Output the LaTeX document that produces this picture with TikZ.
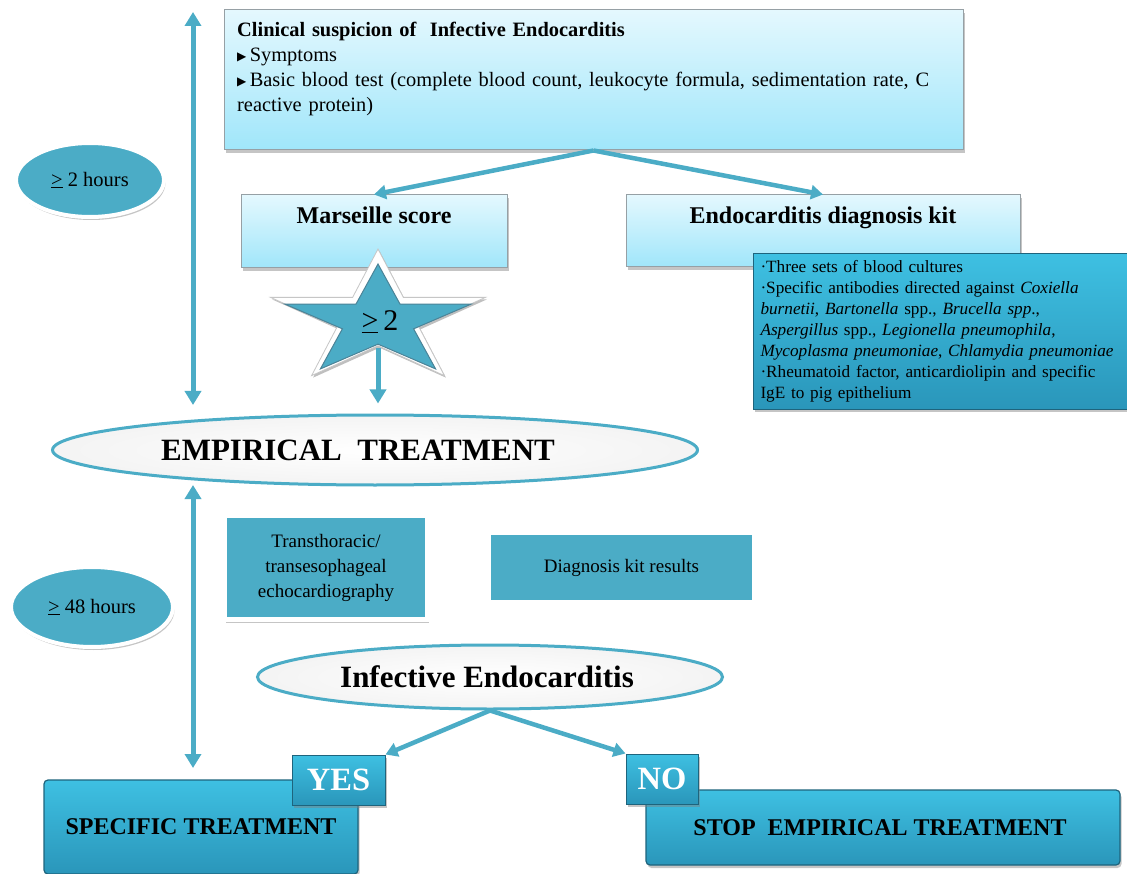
\documentclass[tikz,border=0pt]{standalone}
\usepackage{fontspec}
\setmainfont{Liberation Serif}
\newfontfamily\dejavu{DejaVu Sans}
\usetikzlibrary{arrows.meta,shadows,shapes.geometric}
\definecolor{teal1}{RGB}{75,172,198}
\definecolor{lighttop}{RGB}{228,248,254}
\definecolor{lightbot}{RGB}{160,230,250}
\definecolor{darktop}{RGB}{62,192,226}
\definecolor{darkbot}{RGB}{42,150,186}
\definecolor{boxedge}{RGB}{150,160,165}
\definecolor{darkedge}{RGB}{30,100,125}
\begin{document}
\begin{tikzpicture}[x=1pt,y=-1pt,
  arr/.style={draw=teal1, line width=5pt, -{Triangle[length=14pt,width=16pt]}},
  sarr/.style={draw=teal1, line width=4.5pt, -{Triangle[length=12pt,width=14pt]}},
  darr/.style={draw=teal1, line width=5pt, {Triangle[length=14pt,width=16pt]}-{Triangle[length=14pt,width=16pt]}},
  shad/.style={drop shadow={shadow xshift=1.5pt,shadow yshift=-3pt,opacity=0.45}},
  lightbox/.style={rectangle, draw=boxedge, line width=1pt, top color=lighttop, bottom color=lightbot, shad, inner sep=0pt},
  darkbox/.style={rectangle, draw=darkedge, line width=1pt, top color=darktop, bottom color=darkbot, shad},
  tealbox/.style={rectangle, fill=teal1, draw=white, shad, inner sep=0pt, align=center},
  hours/.style={ellipse, fill=teal1, draw=white, line width=4pt, shad, inner sep=0pt, font=\fontsize{20.5}{24}\selectfont},
  bigell/.style={ellipse, draw=teal1, line width=3pt, inner color=white, outer color=gray!9, inner sep=0pt, font=\fontsize{31}{34}\selectfont\bfseries},
  endbox/.style={rectangle, rounded corners=4pt, draw=darkedge, line width=1.2pt, top color=darktop, bottom color=darkbot, shad, inner sep=0pt, font=\fontsize{24}{28}\selectfont\bfseries},
  tagbox/.style={rectangle, draw=darkedge, line width=1pt, top color=darktop, bottom color=darkbot, shad, inner sep=0pt, text=white, font=\fontsize{32.5}{34}\selectfont\bfseries}
]
\useasboundingbox (0,0) rectangle (1127,874);
\fill[white] (0,0) rectangle (1127,874);

% top box
\node[lightbox, minimum width=739pt, minimum height=140pt] (top) at (593.5,80) {};
\node[anchor=north west, inner sep=0pt, text width=725pt, align=left, font=\fontsize{20.4}{25}\selectfont] (toptext) at (237,22)
 {\textbf{Clinical suspicion of\ \ Infective Endocarditis}\\
  \raisebox{1pt}{\dejavu\fontsize{12}{12}\selectfont ▶}\,Symptoms\\
  \raisebox{1pt}{\dejavu\fontsize{12}{12}\selectfont ▶}\,Basic blood test (complete blood count, leukocyte formula, sedimentation rate, C\\
  reactive protein)};

% second row
\node[lightbox, minimum width=266pt, text height=29pt, text depth=44pt, font=\fontsize{24}{28}\selectfont\bfseries] (mars) at (374,231.5) {Marseille score};
\node[lightbox, minimum width=394pt, text height=29pt, text depth=43pt, font=\fontsize{24}{28}\selectfont\bfseries] (kit) at (823,231) {Endocarditis diagnosis kit};

\node[darkbox, anchor=north west, inner xsep=7pt, inner ysep=7pt, text width=362pt, align=left, font=\fontsize{17.2}{21}\selectfont] (kitlist) at (753,253)
 {·Three sets of blood cultures\\
  ·Specific antibodies directed against \textit{Coxiella}\\
  \textit{burnetii}, \textit{Bartonella} spp., \textit{Brucella spp}.,\\
  \textit{Aspergillus} spp., \textit{Legionella pneumophila},\\
  \textit{Mycoplasma pneumoniae}, \textit{Chlamydia pneumoniae}\\
  ·Rheumatoid factor, anticardiolipin and specific\\
  IgE to pig epithelium};

% star
\filldraw[fill=white, draw=gray!45, line width=0.8pt, drop shadow={shadow xshift=1.5pt,shadow yshift=-2pt,opacity=0.5}] plot[samples at={0,...,9}, variable=\k]
  ({378+113*(0.691+0.309*cos(180*\k))*cos(90+36*\k)}, {319-70*(0.691+0.309*cos(180*\k))*sin(90+36*\k)}) -- cycle;
\draw[fill=teal1, draw=darkedge!80, line width=1pt] plot[samples at={0,...,9}, variable=\k]
  ({378+98*(0.691+0.309*cos(180*\k))*cos(90+36*\k)}, {322-58*(0.691+0.309*cos(180*\k))*sin(90+36*\k)}) -- cycle;
\node[font=\fontsize{30}{32}\selectfont, inner sep=0pt] (ge2) at (380,322) {\underline{>}\,2};
\coordinate (starbot) at (378,348);

% hours ellipses
\node[hours, minimum width=148pt, minimum height=74pt] (h2) at (90,180) {\underline{>}~2 hours};
\node[hours, minimum width=162pt, minimum height=80pt] (h48) at (92,607) {\underline{>}~48 hours};

% empirical treatment
\node[bigell, minimum width=645pt, minimum height=70pt] (emp) at (375,450) {EMPIRICAL\ \ TREATMENT\hspace*{34pt}};

% middle boxes
\node[tealbox, line width=5pt, minimum width=203pt, minimum height=104pt, font=\fontsize{19}{25}\selectfont] (echo) at (326,567.5)
 {Transthoracic/\\transesophageal\\echocardiography};
\node[tealbox, line width=8pt, minimum width=269pt, minimum height=73pt, font=\fontsize{19}{25}\selectfont] (res) at (621.5,567.5)
 {Diagnosis kit results};

% infective endocarditis
\node[bigell, minimum width=465pt, minimum height=64pt] (ie) at (490,677) {Infective Endocarditis\hspace*{6pt}};

% end boxes
\node[endbox, minimum width=314pt, minimum height=94pt] (spec) at (201,827) {SPECIFIC TREATMENT};
\node[endbox, minimum width=474pt, minimum height=75pt] (stop) at (883,827.5) {STOP\ \ EMPIRICAL TREATMENT\hspace*{6pt}};
\node[tagbox, minimum width=93pt, minimum height=50pt] (yes) at (338.5,780) {YES};
\node[tagbox, minimum width=72pt, minimum height=50pt] (no) at (662,779) {NO};

% timeline arrows
\coordinate (a1) at (193,12);
\coordinate (a2) at (193,405);
\coordinate (b1) at (193,485);
\coordinate (b2) at (193,768);
\draw[darr] (a1) -- (a2);
\draw[darr] (b1) -- (b2);

% connectors
\draw[sarr] (top.south) -- (mars.north);
\draw[sarr] (top.south) -- (kit.north);
\draw[arr, shorten >=10pt] (starbot) -- (starbot |- emp.north);
\draw[sarr] (ie.south) -- (yes.north east);
\draw[sarr] (ie.south) -- (no.north west);
\end{tikzpicture}
\end{document}
